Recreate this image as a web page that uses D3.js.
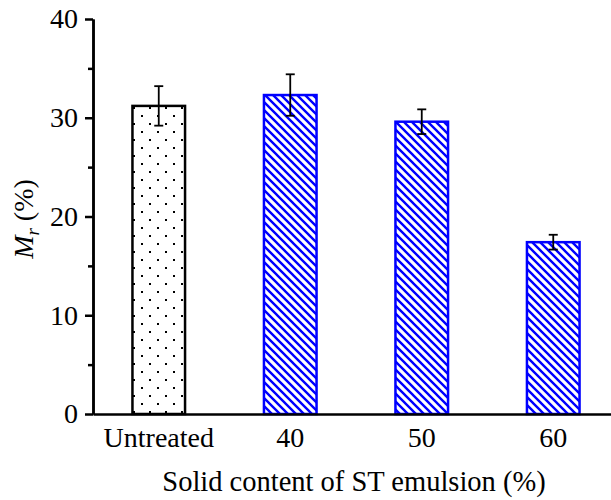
<!DOCTYPE html>
<html>
<head>
<meta charset="utf-8">
<script src="https://cdn.jsdelivr.net/npm/d3@7"></script>
<style>
  body { margin: 0; background: #fff; }
</style>
</head>
<body>
<div id="chart"></div>
<script>
var categories = ["Untreated", "40", "50", "60"];
var values = [31.2, 32.3, 29.6, 17.4];
var errors = [2.0, 2.1, 1.25, 0.75];
var yTicks = [0, 10, 20, 30, 40];
var yMinorTicks = [5, 15, 25, 35];

var serif = "Liberation Serif";

var svgWidth = 611;
var svgHeight = 500;
var margin = { top: 19, right: 0, bottom: 86, left: 93 };
var width = svgWidth - margin.left - margin.right;
var height = svgHeight - margin.top - margin.bottom;

var svg = d3.select("#chart")
  .append("svg")
    .attr("width", svgWidth)
    .attr("height", svgHeight)
    .style("font-family", serif);

// patterns for the bars
var defs = svg.append("defs");
var dots = defs.append("pattern")
  .attr("id", "dots")
  .attr("patternUnits", "userSpaceOnUse")
  .attr("width", 16)
  .attr("height", 16);
dots.append("rect").attr("x", 0).attr("y", 0).attr("width", 2).attr("height", 2).attr("fill", "#000");
dots.append("rect").attr("x", 8).attr("y", 8).attr("width", 2).attr("height", 2).attr("fill", "#000");

var hatch = defs.append("pattern")
  .attr("id", "hatch")
  .attr("patternUnits", "userSpaceOnUse")
  .attr("width", 8)
  .attr("height", 8);
hatch.append("path")
  .attr("d", "M-2,-2 L10,10 M-2,6 L2,10 M6,-2 L10,2")
  .attr("stroke", "#0000ff")
  .attr("stroke-width", 2.4);

var chartGroup = svg.append("g")
  .attr("transform", `translate(${margin.left}, ${margin.top})`);

var xScale = d3.scaleBand()
  .domain(categories)
  .range([0, 526])
  .paddingInner(0.6)
  .paddingOuter(0.3);

var yScale = d3.scaleLinear()
  .domain([0, 40])
  .range([height, 0]);

// bars
chartGroup.selectAll(".bar")
  .data(values)
  .enter()
  .append("rect")
  .attr("class", "bar")
  .attr("x", (d, i) => xScale(categories[i]))
  .attr("y", d => yScale(d))
  .attr("width", xScale.bandwidth())
  .attr("height", d => height - yScale(d))
  .attr("fill", (d, i) => i === 0 ? "url(#dots)" : "url(#hatch)")
  .attr("stroke", (d, i) => i === 0 ? "#000" : "#0000ff")
  .attr("stroke-width", 2.5);

// error bars
var errGroup = chartGroup.selectAll(".err")
  .data(values)
  .enter()
  .append("g")
  .attr("class", "err")
  .attr("stroke", "#000")
  .attr("stroke-width", 1.8);

var cx = i => xScale(categories[i]) + xScale.bandwidth() / 2;

errGroup.append("line")
  .attr("x1", (d, i) => cx(i))
  .attr("x2", (d, i) => cx(i))
  .attr("y1", (d, i) => yScale(d + errors[i]))
  .attr("y2", (d, i) => yScale(d - errors[i]));
errGroup.append("line")
  .attr("x1", (d, i) => cx(i) - 4.5)
  .attr("x2", (d, i) => cx(i) + 4.5)
  .attr("y1", (d, i) => yScale(d + errors[i]))
  .attr("y2", (d, i) => yScale(d + errors[i]));
errGroup.append("line")
  .attr("x1", (d, i) => cx(i) - 4.5)
  .attr("x2", (d, i) => cx(i) + 4.5)
  .attr("y1", (d, i) => yScale(d - errors[i]))
  .attr("y2", (d, i) => yScale(d - errors[i]));

// y axis
var leftAxis = d3.axisLeft(yScale)
  .tickValues(yTicks)
  .tickSize(8)
  .tickPadding(7)
  .tickSizeOuter(0);
chartGroup.append("g").call(leftAxis);

var minorAxis = d3.axisLeft(yScale)
  .tickValues(yMinorTicks)
  .tickSize(5)
  .tickFormat("")
  .tickSizeOuter(0);
chartGroup.append("g").call(minorAxis);

// x axis
var bottomAxis = d3.axisBottom(xScale)
  .tickSize(0)
  .tickPadding(13)
  .tickSizeOuter(0);
chartGroup.append("g")
  .attr("transform", `translate(0, ${height})`)
  .call(bottomAxis);

chartGroup.selectAll("g").attr("font-family", serif);
chartGroup.selectAll(".tick text")
  .attr("fill", "#000")
  .style("font-family", serif)
  .style("font-size", "28px");
chartGroup.selectAll(".domain")
  .attr("stroke", "#000")
  .attr("stroke-width", 2.5);
chartGroup.selectAll(".tick line")
  .attr("stroke", "#000")
  .attr("stroke-width", 2.5);

// axis labels
var yLabel = svg.append("text")
  .attr("transform", "translate(33, 219) rotate(-90)")
  .attr("text-anchor", "middle")
  .style("font-family", serif)
  .style("font-size", "28px");
yLabel.append("tspan").style("font-style", "italic").text("M");
yLabel.append("tspan").style("font-style", "italic").style("font-size", "19px").attr("dy", 6).text("r");
yLabel.append("tspan").attr("dy", -6).text(" (%)");

svg.append("text")
  .attr("x", 354)
  .attr("y", 491)
  .attr("text-anchor", "middle")
  .style("font-family", serif)
  .style("font-size", "28.5px")
  .text("Solid content of ST emulsion (%)");
</script>
</body>
</html>
